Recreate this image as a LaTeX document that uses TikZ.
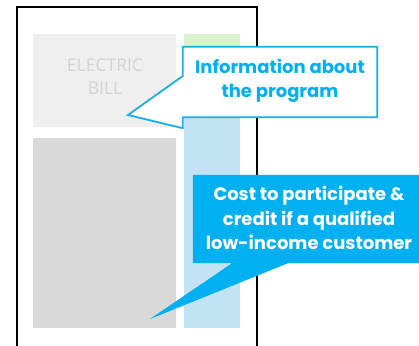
\documentclass[tikz,border=0pt]{standalone}
\usepackage{fontspec}
\setmainfont{Open Sans}
\newfontfamily\callfont{Poppins}
\definecolor{billgray}{HTML}{EFEFEF}
\definecolor{billtext}{HTML}{D3D3D3}
\definecolor{darkgray}{HTML}{D9D9D9}
\definecolor{stripgreen}{HTML}{D9F2D0}
\definecolor{stripblue}{HTML}{C2E3F4}
\definecolor{calloutcyan}{HTML}{00B0F0}
\definecolor{calloutline}{HTML}{1AAEE5}
\begin{document}
\begin{tikzpicture}[x=1pt,y=-1pt,
  block/.style={inner sep=0pt, outer sep=0pt, anchor=north west},
  calltext/.style={font=\callfont\bfseries\fontsize{18}{24.5}\selectfont, align=center, inner sep=0pt}]
\useasboundingbox (0,0) rectangle (419,345);
\fill[white] (0,0) rectangle (419,345);
% page outline
\coordinate (pbl) at (17,360);
\coordinate (ptl) at (17,7);
\coordinate (ptr) at (257,7);
\coordinate (pbr) at (257,360);
\draw[line width=1.6pt] (pbl) -- (ptl) -- (ptr) -- (pbr);
% blocks
\node[block, fill=billgray, minimum width=143pt, minimum height=93pt] (bill) at (33,34) {};
\node[font=\fontsize{17.5}{23}\selectfont, text=billtext, align=center, inner sep=0pt] (billtxt) at (105,77) {ELECTRIC\\BILL};
\node[block, fill=darkgray, minimum width=143pt, minimum height=190pt] (gray) at (33,138) {};
\node[block, fill=stripblue, minimum width=56pt, minimum height=294pt] (blue) at (184,34) {};
\node[block, fill=stripgreen, minimum width=56pt, minimum height=24pt] (green) at (184,34) {};
% callout 1
\node[minimum width=194pt, minimum height=70pt, inner sep=0pt] (info) at (280,82) {};
\coordinate (tip1) at (128,115);
\filldraw[fill=white, draw=calloutline, line width=1.8pt, line join=miter]
  (info.north west) -- (info.north east) -- (info.south east) -- (info.south west)
  -- ([yshift=-11pt]info.south west) -- (tip1) -- ([yshift=6pt]info.west) -- cycle;
\node[calltext, text=calloutcyan] at ([yshift=1pt]info.center) {Information about\\the program};
% callout 2
\node[minimum width=226pt, minimum height=88pt, inner sep=0pt] (cost) at (306,219) {};
\coordinate (tip2) at (150,319);
\fill[calloutcyan] (cost.north west) -- (cost.north east) -- (cost.south east)
  -- ([xshift=-18pt]cost.south) -- (tip2) -- ([xshift=-74pt]cost.south) -- (cost.south west) -- cycle;
\node[calltext, text=white] at ([xshift=3pt,yshift=1pt]cost.center) {Cost to participate \&\\credit if a qualified\\low-income customer};
\end{tikzpicture}
\end{document}
